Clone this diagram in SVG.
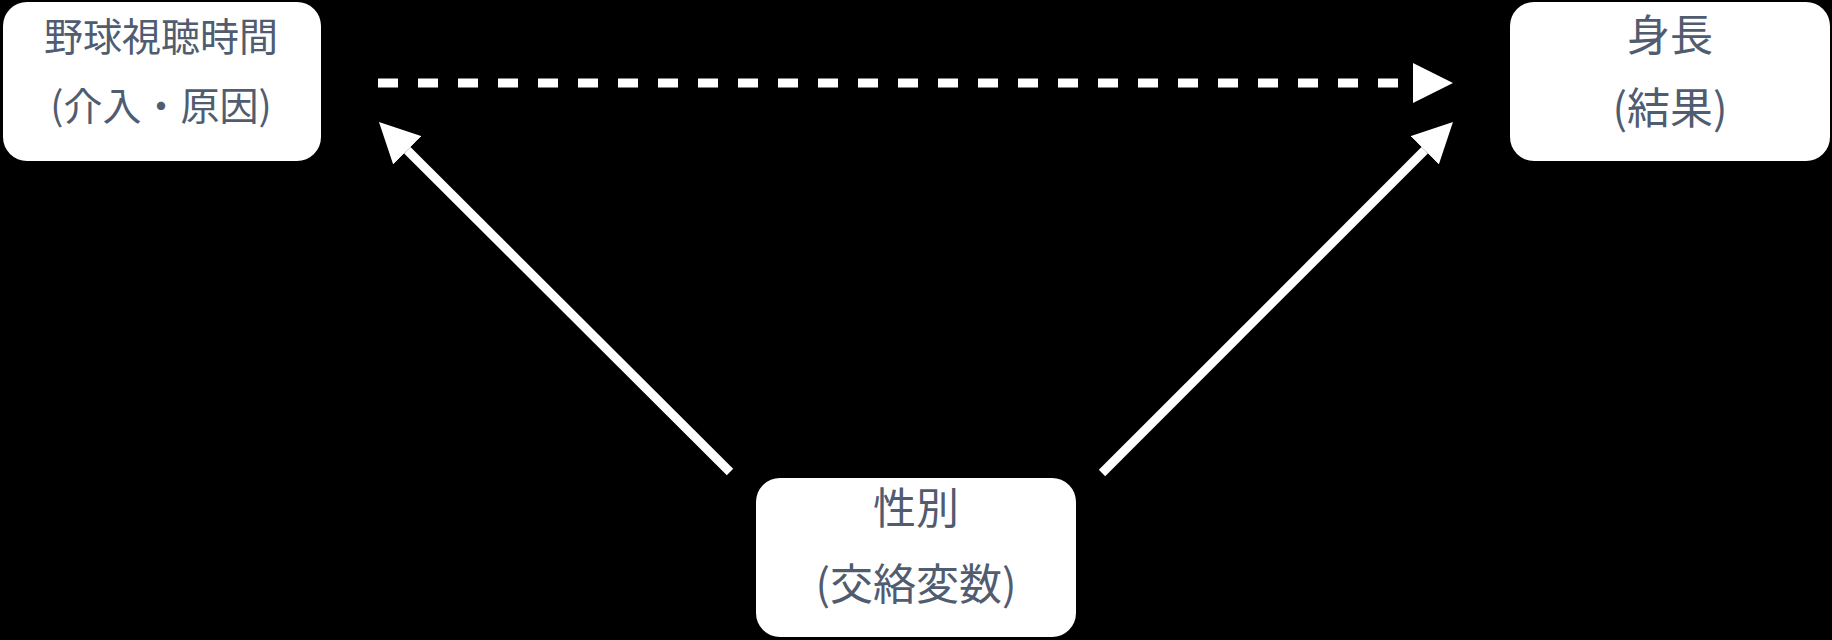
<svg xmlns="http://www.w3.org/2000/svg" width="1832" height="640" viewBox="0 0 1832 640">
<defs>
<style>
.box{fill:#ffffff;}
.lbl{font-family:"Noto Sans CJK JP","Noto Sans CJK SC",sans-serif;font-size:39px;fill:#505c70;text-anchor:middle;}
.big{font-size:43px;}
.edge{stroke:#ffffff;stroke-width:9;fill:none;}
.dash{stroke-dasharray:20 20;}
</style>
<marker id="arr" markerUnits="userSpaceOnUse" markerWidth="40" markerHeight="40" refX="0" refY="20" orient="auto" viewBox="0 0 40 40">
<path d="M0,0 L40,20 L0,40 z" fill="#ffffff"/>
</marker>
</defs>
<rect x="0" y="0" width="1832" height="640" fill="#000000"/>
<g id="connectors">
<line class="edge dash" x1="378" y1="83" x2="1413" y2="83" marker-end="url(#arr)"/>
<line class="edge" x1="730" y1="472" x2="407.3" y2="150.3" marker-end="url(#arr)"/>
<line class="edge" x1="1102" y1="473" x2="1424.7" y2="150.3" marker-end="url(#arr)"/>
</g>
<g id="node-treatment">
<rect class="box" x="3" y="2" width="318" height="159" rx="24"/>
<text class="lbl" x="161" y="51">野球視聴時間</text>
<text class="lbl" x="161" y="120">(介入・原因)</text>
</g>
<g id="node-outcome">
<rect class="box" x="1510" y="2" width="320" height="159" rx="24"/>
<text class="lbl big" x="1670" y="51">身長</text>
<text class="lbl big" x="1670" y="124">(結果)</text>
</g>
<g id="node-confounder">
<rect class="box" x="756" y="478" width="320" height="159" rx="24"/>
<text class="lbl big" x="916" y="524">性別</text>
<text class="lbl big" x="916" y="600">(交絡変数)</text>
</g>
</svg>
